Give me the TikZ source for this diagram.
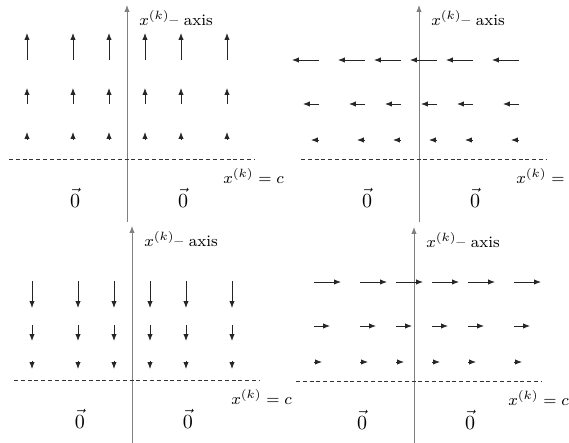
\documentclass[tikz,border=0pt]{standalone}
\usepackage{amsmath,amssymb}
\usepackage{tikz}
\usetikzlibrary{arrows.meta}

\begin{document}
\begin{tikzpicture}[x=0.5pt, y=0.5pt, >={Latex[length=3.4pt,width=2.6pt]},
    axis/.style={draw=black!50, ->},
    level/.style={draw=black!80, dash pattern=on 2pt off 1.4pt},
    vec/.style={draw=black!85, ->},
    lab/.style={inner sep=0pt, anchor=west, font=\footnotesize},
    zero/.style={inner sep=0pt}]

  \useasboundingbox (0,0) rectangle (569,443);
  \clip (0,0) rectangle (569,443);

  % --- Top Left: field points up ---
  \begin{scope}[shift={(127,284)}]
    \draw[axis] (0,-63) coordinate (tlb) -- (0,154) coordinate (tlt);
    \draw[level] (-118,0) coordinate (tll) -- (128,0) coordinate (tlr);
    \node[lab] (tlax) at (12,141) {$x^{(k)}$-- axis};
    \node[lab] (tlc) at (96,-17) {$x^{(k)}=c$};
    \node[zero] (tlz1) at (-52,-39) {$\vec{0}$};
    \node[zero] (tlz2) at (56,-39) {$\vec{0}$};
    \foreach \cx in {-100,-54,-18,18,54,100}
      \foreach \h/\len in {99/27,55/16,19/8}
        \draw[vec] (\cx,\h) -- ++(0,\len);
  \end{scope}

  % --- Top Right: field points left ---
  \begin{scope}[shift={(419,284)}]
    \draw[axis] (0,-63) coordinate (trb) -- (0,154) coordinate (trt);
    \draw[level] (-118,0) coordinate (trl) -- (128,0) coordinate (trr);
    \node[lab] (trax) at (12,141) {$x^{(k)}$-- axis};
    \node[lab] (trc) at (97,-17) {$x^{(k)}=c$};
    \node[zero] (trz1) at (-52,-39) {$\vec{0}$};
    \node[zero] (trz2) at (56,-39) {$\vec{0}$};
    \foreach \cx in {-100,-54,-18,18,54,100}
      \foreach \h/\len in {99/27,55/16,19/8}
        \draw[vec] (\cx,\h) -- ++(-\len,0);
  \end{scope}

  % --- Bottom Left: field points down ---
  \begin{scope}[shift={(132,63)}]
    \draw[axis] (0,-63) coordinate (blb) -- (0,154) coordinate (blt);
    \draw[level] (-118,0) coordinate (bll) -- (128,0) coordinate (blr);
    \node[lab] (blax) at (12,141) {$x^{(k)}$-- axis};
    \node[lab] (blc) at (99,-17) {$x^{(k)}=c$};
    \node[zero] (blz1) at (-52,-39) {$\vec{0}$};
    \node[zero] (blz2) at (56,-39) {$\vec{0}$};
    \foreach \cx in {-100,-54,-18,18,54,100}
      \foreach \h/\len in {99/27,55/16,19/8}
        \draw[vec] (\cx,\h) -- ++(0,-\len);
  \end{scope}

  % --- Bottom Right: field points right ---
  \begin{scope}[shift={(414,62)}]
    \draw[axis] (0,-63) coordinate (brb) -- (0,154) coordinate (brt);
    \draw[level] (-118,0) coordinate (brl) -- (128,0) coordinate (brr);
    \node[lab] (brax) at (12,141) {$x^{(k)}$-- axis};
    \node[lab] (brc) at (94,-17) {$x^{(k)}=c$};
    \node[zero] (brz1) at (-52,-39) {$\vec{0}$};
    \node[zero] (brz2) at (56,-39) {$\vec{0}$};
    \foreach \cx in {-100,-54,-18,18,54,100}
      \foreach \h/\len in {99/27,55/16,19/8}
        \draw[vec] (\cx,\h) -- ++(\len,0);
  \end{scope}
\end{tikzpicture}
\end{document}
